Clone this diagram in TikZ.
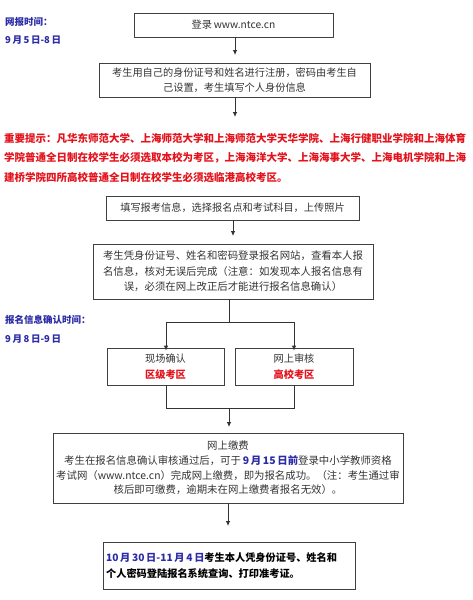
\documentclass[tikz,border=0pt]{standalone}
\usepackage{fontspec}
\setmainfont{Noto Sans CJK SC}
\usetikzlibrary{arrows.meta}
\XeTeXlinebreaklocale "zh"
\definecolor{rd}{HTML}{E3121B}
\definecolor{bl}{HTML}{2B2BA6}
\begin{document}
\begin{tikzpicture}[x=1pt,y=-1pt,
  box/.style={draw=black!75, line width=0.8pt, inner sep=0pt, align=center,
    font=\fontsize{10.2}{14.5}\selectfont, text=black!80},
  arr/.style={draw=black!80, line width=0.8pt, -{Latex[length=5pt,width=4.5pt]}},
  ln/.style={draw=black!80, line width=0.8pt},
  lbl/.style={anchor=west, inner sep=0pt, text=bl, font=\fontsize{9.5}{11}\bfseries\selectfont}]
\useasboundingbox (0,0) rectangle (472,600);

% left labels
\node[lbl] (l1) at (5,22) {网报时间：};
\node[lbl] (l2) at (5,40) {9\,月\,5\,日-8\,日};
\node[lbl] (l3) at (5,320) {报名信息确认时间：};
\node[lbl] (l4) at (5,339) {9\,月\,8\,日-9\,日};

% boxes
\node[box, minimum width=199pt, minimum height=24pt] (b1) at (233.5,25) {登录\,www.ntce.cn};
\node[box, minimum width=271pt, minimum height=34pt] (b2) at (234.5,80)
  {考生用自己的身份证号和姓名进行注册，密码由考生自\\己设置，考生填写个人身份信息};

\node[anchor=north west, inner sep=0pt, align=left, text=rd,
  font=\fontsize{10.5}{19.5}\bfseries\selectfont] (note) at (4,133)
  {重要提示：凡华东师范大学、上海师范大学和上海师范大学天华学院、上海行健职业学院和上海体育\\
   学院普通全日制在校学生必须选取本校为考区，上海海洋大学、上海海事大学、上海电机学院和上海\\
   建桥学院四所高校普通全日制在校学生必须选临港高校考区。};

\node[box, minimum width=253pt, minimum height=24pt] (b3) at (232.5,208)
  {填写报考信息，选择报名点和考试科目，上传照片};
\node[box, minimum width=280pt, minimum height=55pt, font=\fontsize{10.4}{15.5}\selectfont] (b4) at (233,271.5)
  {考生凭身份证号、姓名和密码登录报名网站，查看本人报\\名信息，核对无误后完成（注意：如发现本人报名信息有\\误，必须在网上改正后才能进行报名信息确认）};

\node[box, minimum width=117pt, minimum height=37pt, font=\fontsize{10.2}{16}\selectfont] (b5a) at (165.5,366.5)
  {现场确认\\{\color{rd}\bfseries 区级考区}};
\node[box, minimum width=118pt, minimum height=37pt, font=\fontsize{10.2}{16}\selectfont] (b5b) at (294,366.5)
  {网上审核\\{\color{rd}\bfseries 高校考区}};

\node[box, minimum width=350pt, minimum height=70pt, font=\fontsize{10.4}{14.7}\selectfont] (b6) at (228,468)
  {网上缴费\\考生在报名信息确认审核通过后，可于\,{\color{bl}\bfseries 9\,月\,15\,日前}登录中小学教师资格\\
   考试网（www.ntce.cn）完成网上缴费，即为报名成功。（注：考生通过审\\核后即可缴费，逾期未在网上缴费者报名无效）。};

\node[box, minimum width=252pt, minimum height=47pt, align=left, text=black,
  font=\fontsize{10.2}{16}\bfseries\selectfont] (b7) at (229,565.5)
  {{\color{bl}10\,月\,30\,日-11\,月\,4\,日}考生本人凭身份证号、姓名和\\个人密码登陆报名系统查询、打印准考证。\hspace*{52pt}};

% connectors
\coordinate (a1) at (235,55);
\coordinate (a2) at (235,117);
\coordinate (a3) at (233,236);
\coordinate (s1) at (229,322);
\coordinate (sl) at (166,322);
\coordinate (sr) at (294,322);
\coordinate (m1) at (229,408);
\coordinate (ml) at (166,408);
\coordinate (mr) at (294,408);
\coordinate (a4) at (229,427);
\coordinate (a5) at (228,526);

\draw[arr] (b1.south -| a1) -- (a1);
\draw[arr] (b2.south -| a2) -- (a2);
\draw[arr] (b3.south -| a3) -- (a3);
\draw[ln] (b4.south -| s1) -- (s1);
\draw[ln] (sl) -- (sr);
\draw[arr] (sl) -- ([yshift=-3pt]b5a.north -| sl);
\draw[arr] (sr) -- ([yshift=-3pt]b5b.north -| sr);
\draw[ln] (b5a.south -| ml) -- (ml) -- (mr) -- (b5b.south -| mr);
\draw[arr] (m1) -- (a4);
\draw[arr] (b6.south -| a5) -- (a5);
\end{tikzpicture}
\end{document}
